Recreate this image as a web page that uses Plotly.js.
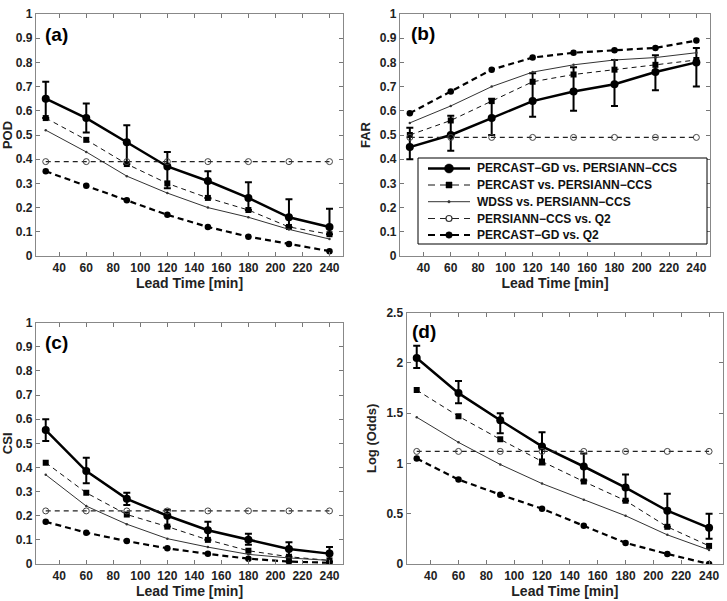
<!DOCTYPE html>
<html>
<head>
<meta charset="utf-8">
<script src="https://cdn.plot.ly/plotly-3.0.1.min.js"></script>
<style>html,body{margin:0;padding:0;background:#fff;}#chart{width:727px;height:601px;}</style>
</head>
<body>
<div id="chart"></div>
<script>
// ---------- data ----------
const leadTime = [30, 60, 90, 120, 150, 180, 210, 240];
const seriesNames = [
  'PERCAST\u2212GD vs. PERSIANN\u2212CCS',
  'PERCAST vs. PERSIANN\u2212CCS',
  'WDSS vs. PERSIANN\u2212CCS',
  'PERSIANN\u2212CCS vs. Q2',
  'PERCAST\u2212GD vs. Q2'
];
const xTicks = [40, 60, 80, 100, 120, 140, 160, 180, 200, 220, 240];

// (a) POD
const podGD      = [0.65, 0.57, 0.47, 0.37, 0.31, 0.24, 0.16, 0.12];
const podGDHigh  = [0.72, 0.63, 0.54, 0.43, 0.35, 0.305, 0.235, 0.195];
const podGDLow   = [0.57, 0.51, 0.38, 0.28, 0.24, 0.19, 0.12, 0.09];
const podPercast = [0.57, 0.48, 0.38, 0.30, 0.24, 0.19, 0.12, 0.09];
const podWDSS    = [0.52, 0.43, 0.33, 0.26, 0.20, 0.16, 0.11, 0.07];
const podCCS     = [0.39, 0.39, 0.39, 0.39, 0.39, 0.39, 0.39, 0.39];
const podGDQ2    = [0.35, 0.29, 0.23, 0.17, 0.12, 0.08, 0.05, 0.02];

// (b) FAR
const farGD      = [0.45, 0.50, 0.57, 0.64, 0.68, 0.71, 0.76, 0.80];
const farGDHigh  = [0.53, 0.58, 0.65, 0.755, 0.78, 0.81, 0.83, 0.86];
const farGDLow   = [0.40, 0.435, 0.50, 0.575, 0.60, 0.62, 0.685, 0.70];
const farPercast = [0.50, 0.56, 0.64, 0.72, 0.75, 0.77, 0.79, 0.81];
const farWDSS    = [0.55, 0.62, 0.70, 0.76, 0.79, 0.81, 0.82, 0.84];
const farCCS     = [0.49, 0.49, 0.49, 0.49, 0.49, 0.49, 0.49, 0.49];
const farGDQ2    = [0.59, 0.68, 0.77, 0.82, 0.84, 0.85, 0.86, 0.89];

// (c) CSI
const csiGD      = [0.555, 0.385, 0.27, 0.20, 0.14, 0.10, 0.062, 0.043];
const csiGDHigh  = [0.60, 0.44, 0.295, 0.225, 0.175, 0.125, 0.09, 0.07];
const csiGDLow   = [0.51, 0.335, 0.245, 0.155, 0.10, 0.08, 0.03, 0.01];
const csiPercast = [0.42, 0.295, 0.205, 0.155, 0.10, 0.055, 0.03, 0.015];
const csiWDSS    = [0.37, 0.24, 0.165, 0.105, 0.07, 0.04, 0.025, 0.015];
const csiCCS     = [0.22, 0.22, 0.22, 0.22, 0.22, 0.22, 0.22, 0.22];
const csiGDQ2    = [0.175, 0.13, 0.095, 0.065, 0.042, 0.022, 0.01, 0.005];

// (d) Log (Odds)
const lorGD      = [2.05, 1.70, 1.43, 1.17, 0.97, 0.76, 0.53, 0.36];
const lorGDHigh  = [2.17, 1.82, 1.50, 1.31, 1.10, 0.89, 0.70, 0.50];
const lorGDLow   = [1.95, 1.60, 1.30, 0.99, 0.83, 0.63, 0.37, 0.25];
const lorPercast = [1.73, 1.47, 1.24, 1.02, 0.82, 0.63, 0.37, 0.18];
const lorWDSS    = [1.46, 1.21, 0.99, 0.80, 0.64, 0.48, 0.29, 0.14];
const lorCCS     = [1.12, 1.12, 1.12, 1.12, 1.12, 1.12, 1.12, 1.12];
const lorGDQ2    = [1.05, 0.84, 0.69, 0.55, 0.38, 0.21, 0.10, 0.00];

// ---------- styles ----------
const styles = [
  {line: {color: '#000', width: 2.5}, marker: {symbol: 'circle', size: 8, color: '#000'}},
  {line: {color: '#111', width: 1, dash: '5px,4px'}, marker: {symbol: 'square', size: 6, color: '#000'}},
  {line: {color: '#333', width: 1}, marker: {symbol: 'circle', size: 2.5, color: '#333'}},
  {line: {color: '#222', width: 1.2, dash: '5px,4px'}, marker: {symbol: 'circle-open', size: 6, color: '#444', line: {width: 1}}},
  {line: {color: '#000', width: 2.2, dash: '6px,4px'}, marker: {symbol: 'circle', size: 6.5, color: '#000'}}
];

// ---------- build ----------
const panels = [
  {xa:'x',  ya:'y',  gd:podGD, hi:podGDHigh, lo:podGDLow, p:podPercast, w:podWDSS, c:podCCS, q:podGDQ2},
  {xa:'x2', ya:'y2', gd:farGD, hi:farGDHigh, lo:farGDLow, p:farPercast, w:farWDSS, c:farCCS, q:farGDQ2},
  {xa:'x3', ya:'y3', gd:csiGD, hi:csiGDHigh, lo:csiGDLow, p:csiPercast, w:csiWDSS, c:csiCCS, q:csiGDQ2},
  {xa:'x4', ya:'y4', gd:lorGD, hi:lorGDHigh, lo:lorGDLow, p:lorPercast, w:lorWDSS, c:lorCCS, q:lorGDQ2}
];

const traces = [];
panels.forEach(pn => {
  const ys = [pn.gd, pn.p, pn.w, pn.c, pn.q];
  ys.forEach((yv, k) => {
    const t = {
      x: leadTime, y: yv, xaxis: pn.xa, yaxis: pn.ya, type: 'scatter',
      mode: 'lines+markers', name: seriesNames[k], showlegend: false, hoverinfo: 'skip',
      line: styles[k].line, marker: styles[k].marker
    };
    if (k === 0) {
      t.error_y = {type: 'data', symmetric: false,
        array: pn.hi.map((v, i) => v - pn.gd[i]),
        arrayminus: pn.gd.map((v, i) => v - pn.lo[i]),
        color: '#000', thickness: 2, width: 3.5};
    }
    traces.push(t);
  });
});

const W = 727, H = 601;
const fx = p => p / W;
const fy = p => 1 - p / H;
const FONT = 'Liberation Sans, Arial, sans-serif';

function xAxis(l, r, anchor) {
  return {
    domain: [fx(l), fx(r)], anchor: anchor, range: [22.8, 250],
    tickvals: xTicks, ticktext: xTicks.map(String),
    ticks: 'inside', ticklen: 4, tickcolor: '#777', mirror: 'ticks',
    showline: true, linecolor: '#888', linewidth: 1.2,
    showgrid: false, zeroline: false,
    tickfont: {family: FONT, size: 12, weight: 'bold', color: '#222'},
    title: {text: 'Lead Time [min]', font: {family: FONT, size: 14, weight: 'bold', color: '#222'}, standoff: 4}
  };
}
function yAxis(b, t, anchor, title, range, tickvals, ticktext) {
  return {
    domain: [fy(b), fy(t)], anchor: anchor, range: range,
    tickvals: tickvals, ticktext: ticktext,
    ticks: 'inside', ticklen: 4, tickcolor: '#777', mirror: 'ticks',
    showline: true, linecolor: '#888', linewidth: 1.2,
    showgrid: false, zeroline: false,
    tickfont: {family: FONT, size: 12, weight: 'bold', color: '#222'},
    title: {text: title, font: {family: FONT, size: 13, weight: 'bold', color: '#222'}, standoff: 6}
  };
}

const unitTicks = [0, 0.1, 0.2, 0.3, 0.4, 0.5, 0.6, 0.7, 0.8, 0.9, 1];
const unitText = ['0', '0.1', '0.2', '0.3', '0.4', '0.5', '0.6', '0.7', '0.8', '0.9', '1'];
const lorTicks = [0, 0.5, 1, 1.5, 2, 2.5];
const lorText = ['0', '0.5', '1', '1.5', '2', '2.5'];

const panelLabels = ['(a)', '(b)', '(c)', '(d)'];
const labelAxes = [['x', 'y'], ['x2', 'y2'], ['x3', 'y3'], ['x4', 'y4']];
const labelPos = [[0.022, 0.915], [0.028, 0.92], [0.022, 0.92], [0.01, 0.925]];

const annotations = panelLabels.map((t, i) => ({
  text: t, showarrow: false,
  xref: labelAxes[i][0] + ' domain', yref: labelAxes[i][1] + ' domain',
  x: labelPos[i][0], y: labelPos[i][1], xanchor: 'left', yanchor: 'middle',
  font: {family: FONT, size: 19, weight: 'bold', color: '#000'}
}));

// ---------- legend (drawn inside panel b, as in the reference) ----------
const legBox = {l: 418, r: 707, t: 158, b: 244};
const legRows = [168.5, 185, 201.7, 218.5, 235];
const legLine = {x0: 428, x1: 470, mid: 449, text: 475};
const shapes = [{
  type: 'rect', xref: 'paper', yref: 'paper',
  x0: fx(legBox.l), x1: fx(legBox.r), y0: fy(legBox.b), y1: fy(legBox.t),
  line: {color: '#000', width: 1}, fillcolor: '#fff', layer: 'above'
}];
styles.forEach((s, k) => {
  const yy = fy(legRows[k]);
  shapes.push({
    type: 'line', xref: 'paper', yref: 'paper', layer: 'above',
    x0: fx(legLine.x0), x1: fx(legLine.x1), y0: yy, y1: yy,
    line: {color: s.line.color, width: s.line.width, dash: s.line.dash ? '7px,5px' : 'solid'}
  });
  const sz = s.marker.size + (k === 0 ? 1 : 0);
  const open = s.marker.symbol === 'circle-open';
  shapes.push({
    type: s.marker.symbol === 'square' ? 'rect' : 'circle',
    xref: 'paper', yref: 'paper', layer: 'above',
    xsizemode: 'pixel', ysizemode: 'pixel',
    xanchor: fx(legLine.mid), yanchor: yy,
    x0: -sz / 2, x1: sz / 2, y0: -sz / 2, y1: sz / 2,
    fillcolor: open ? '#fff' : s.marker.color,
    line: {color: open ? '#333' : s.marker.color, width: open ? 1.2 : 0.5}
  });
  annotations.push({
    text: seriesNames[k], showarrow: false, xref: 'paper', yref: 'paper',
    x: fx(legLine.text), y: yy, xanchor: 'left', yanchor: 'middle',
    font: {family: FONT, size: 12, weight: 'bold', color: '#111'}
  });
});

const layout = {
  width: W, height: H,
  margin: {l: 0, r: 0, t: 0, b: 0},
  paper_bgcolor: '#fff', plot_bgcolor: '#fff',
  font: {family: FONT, color: '#000'},
  showlegend: false,
  xaxis:  xAxis(36, 343, 'y'),
  yaxis:  yAxis(256, 14, 'x', 'POD', [0, 1], unitTicks, unitText),
  xaxis2: xAxis(400, 710, 'y2'),
  yaxis2: yAxis(256, 14, 'x2', 'FAR', [0, 1], unitTicks, unitText),
  xaxis3: xAxis(36, 343, 'y3'),
  yaxis3: yAxis(564, 322.7, 'x3', 'CSI', [0, 1], unitTicks, unitText),
  xaxis4: xAxis(406.7, 723, 'y4'),
  yaxis4: yAxis(564, 312.7, 'x4', 'Log (Odds)', [0, 2.5], lorTicks, lorText),
  shapes: shapes,
  annotations: annotations
};

Plotly.newPlot('chart', traces, layout, {staticPlot: true, displayModeBar: false});
</script>
</body>
</html>
